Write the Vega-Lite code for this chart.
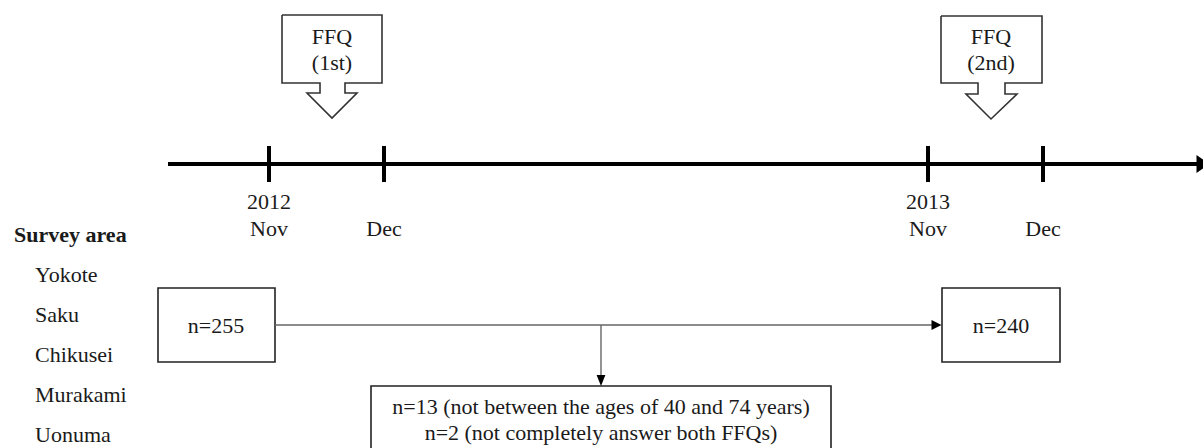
{
  "$schema": "https://vega.github.io/schema/vega-lite/v6.json",
  "width": 1203,
  "height": 448,
  "padding": 0,
  "autosize": {"type": "none"},
  "background": "white",
  "config": {"view": {"stroke": null}, "text": {"font": "Liberation Serif", "fontSize": 22, "color": "#1a1a1a"}},
  "datasets": {
    "callouts": [
      {"id": "FFQ1", "o": 1, "x": 282, "y": 15}, {"id": "FFQ1", "o": 2, "x": 382, "y": 15},
      {"id": "FFQ1", "o": 3, "x": 382, "y": 83}, {"id": "FFQ1", "o": 4, "x": 345, "y": 83},
      {"id": "FFQ1", "o": 5, "x": 345, "y": 93}, {"id": "FFQ1", "o": 6, "x": 357, "y": 93},
      {"id": "FFQ1", "o": 7, "x": 332, "y": 118}, {"id": "FFQ1", "o": 8, "x": 307, "y": 93},
      {"id": "FFQ1", "o": 9, "x": 320, "y": 93}, {"id": "FFQ1", "o": 10, "x": 320, "y": 83},
      {"id": "FFQ1", "o": 11, "x": 282, "y": 83}, {"id": "FFQ1", "o": 12, "x": 282, "y": 15},
      {"id": "FFQ2", "o": 1, "x": 941, "y": 16}, {"id": "FFQ2", "o": 2, "x": 1042, "y": 16},
      {"id": "FFQ2", "o": 3, "x": 1042, "y": 83}, {"id": "FFQ2", "o": 4, "x": 1005, "y": 83},
      {"id": "FFQ2", "o": 5, "x": 1005, "y": 94}, {"id": "FFQ2", "o": 6, "x": 1017, "y": 94},
      {"id": "FFQ2", "o": 7, "x": 991, "y": 119}, {"id": "FFQ2", "o": 8, "x": 966, "y": 94},
      {"id": "FFQ2", "o": 9, "x": 978, "y": 94}, {"id": "FFQ2", "o": 10, "x": 978, "y": 83},
      {"id": "FFQ2", "o": 11, "x": 941, "y": 83}, {"id": "FFQ2", "o": 12, "x": 941, "y": 16}
    ],
    "timeline": [{"x": 168, "x2": 1198, "y": 164}],
    "ticks": [
      {"x": 269, "y": 146, "y2": 182}, {"x": 384, "y": 146, "y2": 182},
      {"x": 928, "y": 146, "y2": 182}, {"x": 1043, "y": 146, "y2": 182}
    ],
    "boxes": [
      {"x": 158, "x2": 275, "y": 288, "y2": 362},
      {"x": 942, "x2": 1060, "y": 288, "y2": 362},
      {"x": 371, "x2": 831, "y": 386, "y2": 452}
    ],
    "hconn": [{"x": 275, "x2": 933, "y": 325}],
    "vconn": [{"x": 601, "y": 325, "y2": 377}],
    "bigArrow": [{"x": 1203, "y": 164}],
    "smallRight": [{"x": 936.5, "y": 325}],
    "smallDown": [{"x": 601, "y": 380.5}],
    "centerText": [
      {"x": 332, "y": 37, "t": "FFQ"}, {"x": 332, "y": 63, "t": "(1st)"},
      {"x": 991, "y": 37, "t": "FFQ"}, {"x": 991, "y": 63, "t": "(2nd)"},
      {"x": 269, "y": 202, "t": "2012"}, {"x": 269, "y": 229, "t": "Nov"},
      {"x": 384, "y": 229, "t": "Dec"},
      {"x": 928, "y": 202, "t": "2013"}, {"x": 928, "y": 229, "t": "Nov"},
      {"x": 1043, "y": 229, "t": "Dec"},
      {"x": 216, "y": 326, "t": "n=255"},
      {"x": 1001, "y": 326, "t": "n=240"},
      {"x": 601, "y": 407, "t": "n=13 (not between the ages of 40 and 74 years)"},
      {"x": 601, "y": 433, "t": "n=2 (not completely answer both FFQs)"}
    ],
    "areas": [
      {"x": 35, "y": 275, "t": "Yokote"}, {"x": 35, "y": 315, "t": "Saku"},
      {"x": 35, "y": 355, "t": "Chikusei"}, {"x": 35, "y": 395, "t": "Murakami"},
      {"x": 35, "y": 435, "t": "Uonuma"}
    ],
    "header": [{"x": 14, "y": 235, "t": "Survey area"}]
  },
  "layer": [
    {
      "data": {"name": "callouts"},
      "mark": {"type": "line", "stroke": "#333", "strokeWidth": 1.6, "strokeJoin": "miter"},
      "encoding": {
        "x": {"field": "x", "type": "quantitative", "scale": {"domain": [0, 1203], "nice": false, "zero": false}, "axis": null},
        "y": {"field": "y", "type": "quantitative", "scale": {"domain": [0, 448], "nice": false, "zero": false, "reverse": true}, "axis": null},
        "detail": {"field": "id"},
        "order": {"field": "o", "type": "quantitative"}
      }
    },
    {
      "data": {"name": "timeline"},
      "mark": {"type": "rule", "stroke": "#000", "strokeWidth": 4},
      "encoding": {
        "x": {"field": "x", "type": "quantitative"},
        "x2": {"field": "x2"},
        "y": {"field": "y", "type": "quantitative"}
      }
    },
    {
      "data": {"name": "ticks"},
      "mark": {"type": "rule", "stroke": "#000", "strokeWidth": 4},
      "encoding": {
        "x": {"field": "x", "type": "quantitative"},
        "y": {"field": "y", "type": "quantitative"},
        "y2": {"field": "y2"}
      }
    },
    {
      "data": {"name": "boxes"},
      "mark": {"type": "rect", "fill": null, "fillOpacity": 0, "stroke": "#222", "strokeWidth": 1.6},
      "encoding": {
        "x": {"field": "x", "type": "quantitative"},
        "x2": {"field": "x2"},
        "y": {"field": "y", "type": "quantitative"},
        "y2": {"field": "y2"}
      }
    },
    {
      "data": {"name": "hconn"},
      "mark": {"type": "rule", "stroke": "#666", "strokeWidth": 1.4},
      "encoding": {
        "x": {"field": "x", "type": "quantitative"},
        "x2": {"field": "x2"},
        "y": {"field": "y", "type": "quantitative"}
      }
    },
    {
      "data": {"name": "vconn"},
      "mark": {"type": "rule", "stroke": "#666", "strokeWidth": 1.4},
      "encoding": {
        "x": {"field": "x", "type": "quantitative"},
        "y": {"field": "y", "type": "quantitative"},
        "y2": {"field": "y2"}
      }
    },
    {
      "data": {"name": "bigArrow"},
      "mark": {"type": "point", "shape": "M-0.72,-1L0.72,0L-0.72,1Z", "filled": true, "fill": "#000", "opacity": 1, "size": 324},
      "encoding": {
        "x": {"field": "x", "type": "quantitative"},
        "y": {"field": "y", "type": "quantitative"}
      }
    },
    {
      "data": {"name": "smallRight"},
      "mark": {"type": "point", "shape": "M-1,-1L1,0L-1,1Z", "filled": true, "fill": "#000", "opacity": 1, "size": 100},
      "encoding": {
        "x": {"field": "x", "type": "quantitative"},
        "y": {"field": "y", "type": "quantitative"}
      }
    },
    {
      "data": {"name": "smallDown"},
      "mark": {"type": "point", "shape": "M-0.8,-1L0.8,-1L0,1Z", "filled": true, "fill": "#000", "opacity": 1, "size": 121},
      "encoding": {
        "x": {"field": "x", "type": "quantitative"},
        "y": {"field": "y", "type": "quantitative"}
      }
    },
    {
      "data": {"name": "centerText"},
      "mark": {"type": "text", "align": "center", "baseline": "middle"},
      "encoding": {
        "x": {"field": "x", "type": "quantitative"},
        "y": {"field": "y", "type": "quantitative"},
        "text": {"field": "t"}
      }
    },
    {
      "data": {"name": "areas"},
      "mark": {"type": "text", "align": "left", "baseline": "middle"},
      "encoding": {
        "x": {"field": "x", "type": "quantitative"},
        "y": {"field": "y", "type": "quantitative"},
        "text": {"field": "t"}
      }
    },
    {
      "data": {"name": "header"},
      "mark": {"type": "text", "align": "left", "baseline": "middle", "fontWeight": "bold"},
      "encoding": {
        "x": {"field": "x", "type": "quantitative"},
        "y": {"field": "y", "type": "quantitative"},
        "text": {"field": "t"}
      }
    }
  ]
}
